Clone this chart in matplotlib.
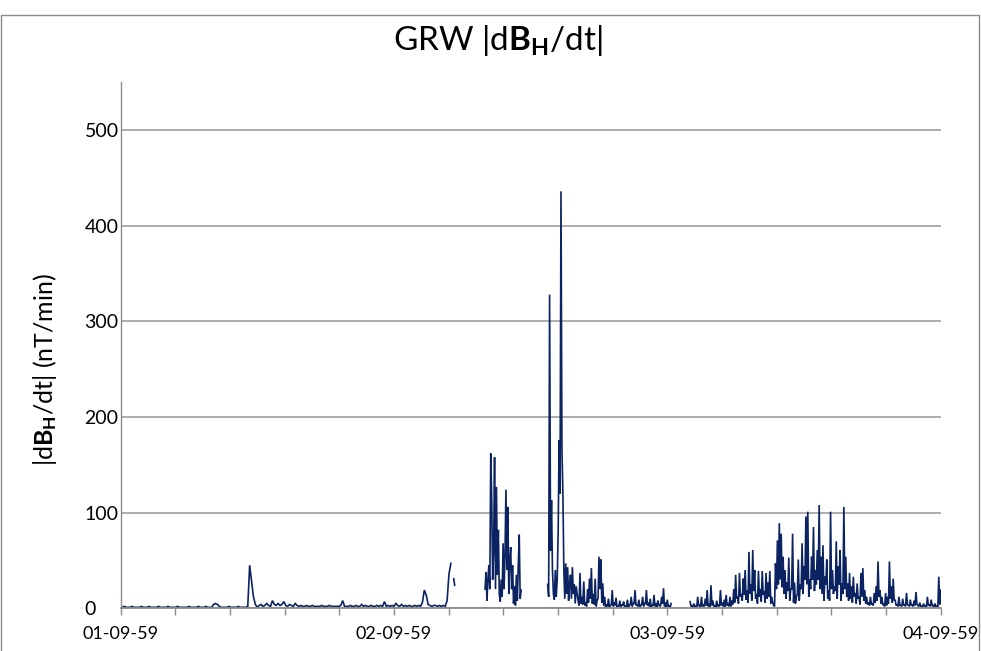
import matplotlib
matplotlib.use("Agg")
import matplotlib.pyplot as plt
import numpy as np
from matplotlib.patches import Rectangle

plt.rcParams['font.family'] = ['Lato', 'DejaVu Sans']
plt.rcParams['mathtext.fontset'] = 'custom'
plt.rcParams['mathtext.rm'] = 'Lato'
plt.rcParams['mathtext.bf'] = 'Lato:bold'
plt.rcParams['mathtext.it'] = 'Lato:italic'


# |dBH/dt| at Greenwich (hours since 01-09-59 00:00)
# quiet parts in 10-minute samples, the busiest stretches in 5-minute samples
step_10 = 1 / 6
step_5 = 1 / 12

seg1_start = 0.0
seg1_vals = [
    1, 1, 2, 1, 1, 1, 2, 1, 1, 1, 1, 2,
    1, 1, 1, 2, 1, 1, 1, 1, 2, 1, 1, 1,
    1, 2, 1, 1, 1, 1, 2, 1, 1, 1, 1, 1,
    2, 1, 1, 1, 1, 2, 1, 1, 1, 2, 1, 1,
    1, 4, 5, 4, 2, 1, 1, 1, 1, 2, 1, 1,
    1, 1, 2, 1, 1, 1, 1, 2, 45, 28, 12, 4,
    1, 3, 4, 2, 3, 5, 3, 2, 8, 4, 3, 5,
    3, 4, 7, 3, 2, 4, 3, 2, 5, 3, 2, 3,
    2, 2, 3, 2, 2, 3, 2, 2, 2, 2, 3, 2,
    2, 2, 3, 2, 2, 2, 2, 2, 3, 8, 2, 2,
    2, 3, 2, 2, 3, 2, 2, 4, 2, 3, 2, 2,
    3, 2, 2, 3, 2, 3, 2, 7, 2, 3, 2, 3,
    2, 5, 3, 2, 4, 2, 3, 2, 3, 2, 2, 3,
    2, 3, 2, 6, 19, 14, 4, 3, 2, 3, 3, 2,
    3, 2, 3, 2, 8, 36, 47,
]

# short isolated piece just after the first gap
blip_hours = [29.25, 29.33]
blip_vals = [31, 24]

# 5-minute samples
seg2_start = 32.0
seg2_vals = [
    20, 38, 8, 30, 45, 20, 162, 115, 30, 60,
    158, 20, 127, 35, 82, 15, 7, 30, 12, 68,
    20, 55, 124, 40, 106, 15, 50, 64, 20, 45,
    5, 23, 3, 35, 8, 45, 77, 10, 19,
]

# 5-minute samples, 37.5 h to 40.0 h
seg3a_start = 37.5
seg3a_vals = [
    25, 12, 328, 60, 113, 40, 15, 9, 40, 12,
    30, 79, 176, 120, 436, 165, 120, 40, 10, 47,
    15, 43, 8, 25, 35, 10, 43, 15, 25, 5,
    23,
]

# continues seg3a: 10-minute peaks and the dips between them
seg3b_start = 40.0 + 1 / 6
seg3b_peaks = [
    8, 37, 12, 28, 6, 20, 31, 42, 15, 31,
    8, 54, 51, 26, 12, 4, 10, 3, 19, 6,
    11, 3, 8, 4, 7, 2, 9, 3, 12, 5,
    19, 4, 9, 3, 12, 5, 19, 6, 10, 3,
    14, 5, 8, 2, 12, 21, 6, 9, 3, 5,
]
seg3b_dips = [
    3, 5, 4, 3, 2, 6, 10, 5, 4, 2,
    10, 20, 6, 3, 1, 2, 1, 4, 2, 3,
    1, 2, 1, 3, 1, 2, 1, 4, 2, 5,
    3, 2, 1, 4, 2, 5, 3, 2, 1, 3,
    2, 1, 4, 3, 5, 2, 1, 2, 1,
]

seg4_start = 50.0
seg4_peaks = [
    7, 3, 5, 2, 12, 3, 12, 4, 10, 19,
    5, 24, 8, 3, 8, 4, 19, 6, 9, 14,
    5, 12, 8, 20, 35, 12, 37, 15, 31, 40,
    19, 59, 25, 61, 40, 15, 39, 20, 39, 18,
    37, 27, 39, 12, 3, 47, 71, 89, 78, 54,
    40, 27, 53, 20, 78, 27, 12, 51, 25, 68,
    44, 96, 101, 30, 54, 85, 40, 61, 108, 54,
    66, 33, 51, 19, 101, 40, 23, 70, 44, 61,
    26, 106, 54, 26, 37, 23, 33, 16, 26, 12,
    37, 42, 19, 12, 6, 12, 5, 16, 23, 49,
    19, 12, 4, 16, 12, 49, 23, 31, 9, 4,
    12, 3, 10, 4, 16, 3, 9, 4, 8, 17,
    3, 6, 2, 5, 3, 12, 4, 9, 3, 5,
    2, 33, 19,
]
seg4_dips = [
    2, 1, 2, 1, 3, 1, 2, 2, 3, 2, 1, 3, 2, 1, 2, 2, 3, 2, 1, 3, 2, 2, 4,
    6, 10, 5, 12, 8, 14, 9, 6, 15, 8, 18, 10, 5, 12, 7, 14, 6, 10, 12, 5, 6, 2,
    20, 25, 30, 22, 15, 10, 18, 8, 20, 6, 5, 15, 8, 20, 15, 30, 25, 12,
    20, 30, 18, 25, 30, 20, 15, 8, 25, 10, 8, 20, 15, 18, 10, 25, 8, 15,
    20, 12, 8, 10, 6, 12, 5, 10, 4, 12, 8, 5, 4, 3, 4, 3, 6, 8, 12, 5,
    4, 2, 3, 5, 10, 6, 8, 3, 2, 3, 2, 3, 2, 4, 2, 3, 2, 3, 4, 2,
    2, 1, 2, 1, 3, 2, 3, 1, 2, 1, 4,
]

day_labels = ['01-09-59', '02-09-59', '03-09-59', '04-09-59']
y_ticks = [0, 100, 200, 300, 400, 500]


def weave(peaks, dips):
    # peak, dip, peak, dip ... peak  (5-minute spacing)
    out = []
    for p, d in zip(peaks[:-1], dips):
        out += [p, d]
    out.append(peaks[-1])
    return out


# join the pieces; NaN after a piece marks a data gap
pieces = [
    (seg1_start, step_10, seg1_vals, True),
    (seg2_start, step_5, seg2_vals, True),
    (seg3a_start, step_5, seg3a_vals, False),
    (seg3b_start, step_5, weave(seg3b_peaks, seg3b_dips), True),
    (seg4_start, step_5, weave(seg4_peaks, seg4_dips), True),
]
hours, vals = [], []
for start, step, seg, gap in pieces:
    hours += list(start + np.arange(len(seg)) * step)
    vals += list(seg)
    if gap:
        hours.append(np.nan)
        vals.append(np.nan)

line_col = '#0b2361'
grid_col = '#a6a6a6'
axis_col = '#8c8c8c'

fig = plt.figure(figsize=(9.81, 6.51), dpi=100)
fig.patches.append(Rectangle((0.001, -0.01), 0.997, 1 - 0.001 - 7.5 / 651,
                             transform=fig.transFigure, fill=False,
                             edgecolor='#8c8c8c', lw=1.0))

ax = fig.add_axes([0.1229, 0.0656, 0.836, 0.808])
ax.plot(hours, vals, color=line_col, lw=1.2, solid_joinstyle='miter')
ax.plot(blip_hours, blip_vals, color=line_col, lw=1.2)

ax.set_xlim(0, 72)
ax.set_ylim(0, 550)

xt = np.arange(0, 72.01, 4.8)
ax.set_xticks(xt)
ax.set_xticklabels([day_labels[i // 5] if i % 5 == 0 else '' for i in range(len(xt))])
ax.set_yticks(y_ticks)
ax.yaxis.grid(True, color=grid_col, lw=1.3)
ax.set_axisbelow(True)

for s in ['top', 'right']:
    ax.spines[s].set_visible(False)
ax.spines['left'].set_color(axis_col)
ax.spines['bottom'].set_color(axis_col)
ax.spines['left'].set_linewidth(1.0)
ax.spines['bottom'].set_linewidth(1.3)

ax.tick_params(axis='x', direction='out', length=5, width=1, color=axis_col,
               labelsize=13, pad=8)
ax.tick_params(axis='y', length=0, labelsize=14, pad=26)
for lbl in ax.get_yticklabels():
    lbl.set_horizontalalignment('left')

fig.text(0.507, 0.938, r'GRW $\mathrm{|d}\mathbf{B}_{\mathbf{H}}\mathrm{/dt|}$',
         ha='center', va='center', fontsize=24)
fig.text(0.046, 0.432, r'$\mathrm{|d}\mathbf{B}_{\mathbf{H}}\mathrm{/dt|\ (nT/min)}$',
         ha='center', va='center', rotation=90, fontsize=18)

fig.savefig('out.png', dpi=100)
